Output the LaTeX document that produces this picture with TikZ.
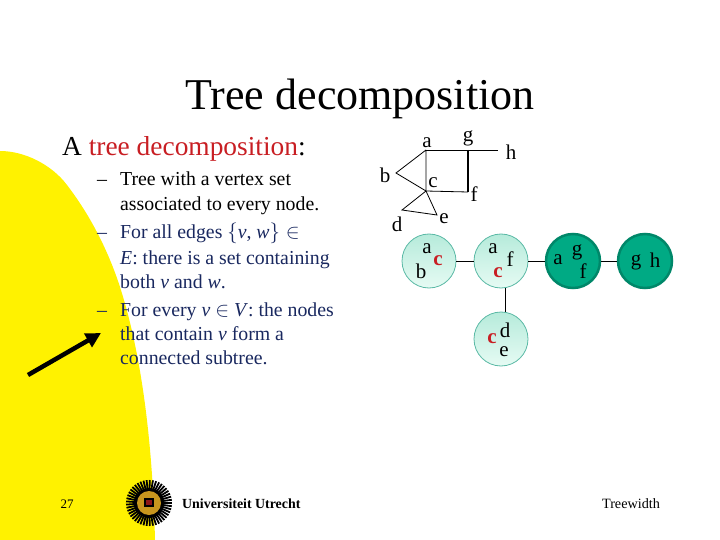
\documentclass[tikz,border=0pt]{standalone}
\usepackage{fontspec}
\setmainfont{Liberation Serif}
\usetikzlibrary{arrows.meta}
\definecolor{uured}{RGB}{200,30,35}
\definecolor{uunavy}{RGB}{25,40,95}
\definecolor{bagrim}{RGB}{90,185,165}
\definecolor{bagfill}{RGB}{205,247,232}
\definecolor{bagdark}{RGB}{0,170,132}
\definecolor{bagdarkrim}{RGB}{0,135,105}
\definecolor{uugold}{RGB}{200,150,30}
\tikzset{
  vlabel/.style={font=\fontsize{21}{21}\selectfont,inner sep=0pt},
  redlabel/.style={font=\fontsize{21}{21}\selectfont\bfseries,text=uured,inner sep=0pt},
  bag/.style={circle,minimum size=54pt,inner sep=0pt,draw=bagrim,line width=0.8pt,top color=bagfill!80!bagrim,bottom color=bagfill!50!white},
  darkbag/.style={circle,minimum size=54pt,inner sep=0pt,draw=bagdarkrim,line width=2.5pt,fill=bagdark},
  item/.style={anchor=base west,font=\fontsize{19.8}{19.8}\selectfont,inner sep=0pt},
  navyitem/.style={item,text=uunavy},
  dashitem/.style={anchor=base west,font=\fontsize{19.8}{19.8}\selectfont,inner sep=0pt},
}
\begin{document}
\begin{tikzpicture}[x=1pt,y=-1pt]
\useasboundingbox (0,0) rectangle (720,540);

\fill[yellow] (0,151) .. controls (25,151) and (52,165) .. (67,185)
  .. controls (90,215) and (108,250) .. (120,287)
  .. controls (137,340) and (152,420) .. (155,540) -- (0,540) -- cycle;

\node[font=\fontsize{44}{44}\selectfont,inner sep=0pt] (title) at (360,99) {Tree decomposition};
\node[anchor=base west,font=\fontsize{27.4}{27.4}\selectfont,inner sep=0pt] (head) at (62,156) {A \textcolor{uured}{tree decomposition}:};

\node[dashitem] (dash1) at (97,186) {--};
\node[item] (l1) at (120,186) {Tree with a vertex set};
\node[item] (l2) at (120,211) {associated to every node.};
\node[dashitem,text=uunavy] (dash2) at (97,239) {--};
\node[navyitem] (l3) at (120,239) {For all edges $\{$\textit{v}, \textit{w}$\}\in$};
\node[navyitem] (l4) at (120,264) {\textit{E}: there is a set containing};
\node[navyitem] (l5) at (120,288) {both \textit{v} and \textit{w}.};
\node[dashitem,text=uunavy] (dash3) at (97,316) {--};
\node[navyitem] (l6) at (120,316) {For every \textit{v} $\in$ \textit{V}: the nodes};
\node[navyitem] (l7) at (120,340) {that contain \textit{v} form a};
\node[navyitem] (l8) at (120,364) {connected subtree.};

% the graph
\coordinate (a) at (426,150);
\coordinate (g) at (468,150);
\coordinate (h) at (498,150);
\coordinate (b) at (396,173);
\coordinate (c) at (426,191);
\coordinate (f) at (468,192);
\coordinate (d) at (402,210);
\coordinate (e) at (437,215);
\draw[line width=0.8pt] (a) -- (h);
\draw[line width=0.8pt] (a) -- (b) -- (c) -- (a);
\draw[line width=0.8pt] (c) -- (f);
\draw[line width=1.6pt] (g) -- (f);
\draw[line width=0.8pt] (c) -- (d) -- (e) -- (c);

\node[vlabel] (la) at (427,143) {a};
\node[vlabel] (lg) at (468,138) {g};
\node[vlabel] (lh) at (511,152) {h};
\node[vlabel] (lb) at (385,175) {b};
\node[vlabel] (lc) at (433,183) {c};
\node[vlabel] (lf) at (474,194) {f};
\node[vlabel] (ld) at (397,224) {d};
\node[vlabel] (le) at (444,219) {e};

% the tree
\node[bag] (abc) at (429,261) {};
\node[bag] (acf) at (501,261) {};
\node[darkbag] (agf) at (573,261) {};
\node[darkbag] (gh) at (645,261) {};
\node[bag] (cde) at (501,339) {};
\draw[line width=0.8pt] (abc) -- (acf);
\draw[line width=0.8pt] (acf) -- (agf);
\draw[line width=0.8pt] (agf) -- (gh);
\draw[line width=0.8pt] (acf.-80) -- (cde.80);

\node[vlabel] (abca) at (427,249) {a};
\node[vlabel] (abcb) at (421,271) {b};
\node[redlabel] (abcc) at (438,261) {c};
\node[vlabel] (acfa) at (493,249) {a};
\node[vlabel] (acff) at (510,259) {f};
\node[redlabel] (acfc) at (498,273) {c};
\node[vlabel] (agfg) at (577,252) {g};
\node[vlabel] (agfa) at (558,260) {a};
\node[vlabel] (agff) at (583,271) {f};
\node[vlabel] (ghg) at (636,262) {g};
\node[vlabel] (ghh) at (655,260) {h};
\node[vlabel] (cded) at (505,330) {d};
\node[redlabel] (cdec) at (492,339) {c};
\node[vlabel] (cdee) at (504,352) {e};

% the arrow
\coordinate (tail) at (28,375);
\coordinate (tip) at (101,333);
\draw[line width=4.5pt,-{Triangle[length=15pt,width=15pt]}] (tail) -- (tip);

% footer
\node[font=\fontsize{13}{13}\selectfont,inner sep=0pt] (page) at (67,504) {27};
\node[font=\fontsize{14.2}{14.2}\selectfont,inner sep=0pt] (foot) at (631,504) {Treewidth};

% the logo
\fill[black] (149,503) circle (15pt);
\foreach \ang in {0,8,...,352}{
  \draw[line width=1.8pt] (149,503) -- +(\ang:23);
}
\fill[uugold] (149,503) circle (12pt);
\fill[black] (144,498) rectangle (154,507);
\fill[uured!70!black] (146,500) rectangle (152,505);
\node[anchor=west,font=\fontsize{13.9}{13.9}\selectfont\bfseries,inner sep=0pt] (uni) at (182,504) {Universiteit Utrecht};
\end{tikzpicture}
\end{document}
